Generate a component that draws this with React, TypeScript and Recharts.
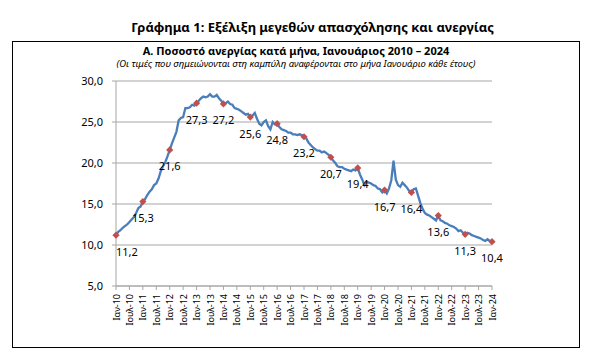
import React from 'react'
import { LineChart, Line, XAxis, YAxis, CartesianGrid } from 'recharts'

// monthly unemployment rate (%), Jan of each year first
const v2010 = [11.2, 11.6, 11.8, 12.1, 12.3, 12.5, 12.8, 13.1, 13.4, 13.9, 14.5, 14.7]
const v2011 = [15.3, 15.6, 16.1, 16.5, 16.8, 17.3, 17.5, 18.1, 19.0, 19.6, 20.1, 20.8]
const v2012 = [21.6, 22.4, 23.1, 23.8, 25.2, 25.5, 25.6, 26.7, 26.7, 26.8, 27.1, 27.0]
const v2013 = [27.3, 27.6, 27.9, 28.1, 28.0, 28.1, 28.4, 28.1, 28.1, 28.3, 27.9, 27.6]
const v2014 = [27.2, 27.3, 27.5, 27.2, 27.1, 26.7, 26.6, 26.5, 26.3, 26.1, 25.9, 26.0]
const v2015 = [25.6, 25.8, 26.1, 25.4, 24.8, 24.6, 25.0, 25.2, 24.5, 24.1, 25.0, 24.7]
const v2016 = [24.8, 24.4, 24.1, 24.0, 23.9, 23.7, 23.7, 23.5, 23.5, 23.4, 23.5, 23.4]
const v2017 = [23.2, 23.0, 22.5, 22.2, 21.9, 21.7, 21.5, 21.5, 21.3, 21.4, 21.2, 21.0]
const v2018 = [20.7, 20.3, 20.0, 19.6, 19.5, 19.5, 19.3, 19.2, 19.1, 19.0, 19.2, 19.1]
const v2019 = [19.4, 18.6, 18.0, 17.3, 17.7, 17.6, 17.5, 17.3, 17.2, 16.9, 16.8, 16.4]
const v2020 = [16.7, 16.3, 16.9, 17.9, 20.3, 18.0, 17.3, 17.1, 17.6, 17.3, 17.0, 16.6]
const v2021 = [16.4, 16.8, 16.9, 16.0, 15.1, 14.4, 13.9, 13.7, 13.6, 13.4, 13.2, 13.0]
const v2022 = [13.6, 13.0, 12.9, 12.7, 12.6, 12.4, 12.3, 12.2, 12.0, 11.7, 11.8, 11.5]
const v2023 = [11.3, 11.5, 11.4, 11.2, 11.1, 11.0, 10.9, 10.8, 10.6, 10.5, 10.7, 10.5]
const v2024 = [10.4]

const years = ['10','11','12','13','14','15','16','17','18','19','20','21','22','23','24']
const monthNames = ['Ιαν','Φεβ','Μαρ','Απρ','Μαϊ','Ιουν','Ιουλ','Αυγ','Σεπ','Οκτ','Νοε','Δεκ']
const yTicks = [5, 10, 15, 20, 25, 30]

const series = [v2010, v2011, v2012, v2013, v2014, v2015, v2016, v2017,
  v2018, v2019, v2020, v2021, v2022, v2023, v2024]

const data = series.flatMap((vals, yi) =>
  vals.map((v, m) => ({ label: `${monthNames[m]}-${years[yi]}`, value: v, jan: m === 0 })))

const FONT = '"Noto Sans", "Open Sans", sans-serif'
const comma = (v: number) => v.toFixed(1).replace('.', ',')

const XTick = (props: any) => {
  const { x, y, payload } = props
  return (
    <text transform={`translate(${x},${y + 4}) rotate(-90)`} textAnchor="end"
          dominantBaseline="central" fontSize={9} fontFamily={FONT} fill="#000">
      {payload.value}
    </text>
  )
}

const JanDot = (props: any) => {
  const { cx, cy, index, payload } = props
  if (!payload?.jan) return <g key={`d${index}`} />
  const r = 3.6
  return (
    <path key={`d${index}`} fill="#C0504D"
          d={`M${cx},${cy - r}L${cx + r},${cy}L${cx},${cy + r}L${cx - r},${cy}Z`} />
  )
}

const JanLabel = (props: any) => {
  const { x, y, index, value } = props
  if (!data[index]?.jan) return <g key={`l${index}`} />
  return (
    <text key={`l${index}`} x={index === 0 ? x : x} y={y + 16}
          textAnchor={index === 0 ? 'start' : 'middle'} dominantBaseline="central"
          fontSize={11} fontFamily={FONT} fill="#000">
      {comma(value)}
    </text>
  )
}

export default function App() {
  return (
    <div style={{ position: 'absolute', left: 0, top: 0, width: 589, height: 354,
                  background: '#fff', overflow: 'hidden', fontFamily: FONT }}>
      <div style={{ position: 'absolute', left: 0, width: 625, top: 18, textAlign: 'center',
                    fontWeight: 700, fontSize: 13, color: '#000' }}>
        Γράφημα 1: Εξέλιξη μεγεθών απασχόλησης και ανεργίας
      </div>
      <div style={{ position: 'absolute', left: 12, top: 41, width: 566, height: 305,
                    border: '1.5px solid #000' }} />
      <div style={{ position: 'absolute', left: 12, width: 568, top: 43, textAlign: 'center',
                    fontWeight: 700, fontSize: 11, color: '#000' }}>
        Α. Ποσοστό ανεργίας κατά μήνα, Ιανουάριος 2010 – 2024
      </div>
      <div style={{ position: 'absolute', left: 12, width: 568, top: 57, textAlign: 'center',
                    fontStyle: 'italic', fontSize: 9.5, color: '#000' }}>
        (Οι τιμές που σημειώνονται στη καμπύλη αναφέρονται στο μήνα Ιανουάριο κάθε έτους)
      </div>
      <div style={{ position: 'absolute', left: 0, top: 0 }}>
        <LineChart width={589} height={354} data={data}
                   margin={{ top: 81, right: 97, bottom: 28, left: 56 }}>
          <CartesianGrid vertical={false} stroke="#a6a6a6" strokeWidth={1} />
          <XAxis dataKey="label" interval={5} tick={<XTick />} tickSize={4} tickMargin={0}
                 height={40} stroke="#a6a6a6" tickLine={{ stroke: '#a6a6a6' }} />
          <YAxis domain={[5, 30]} ticks={yTicks} width={60} tickSize={4} tickMargin={9}
                 tickFormatter={comma} stroke="#a6a6a6"
                 tick={{ fontSize: 11, fontFamily: FONT, fill: '#000' }} />
          <Line type="linear" dataKey="value" stroke="#4A7EBB" strokeWidth={2.3}
                dot={<JanDot />} activeDot={false} label={<JanLabel />}
                isAnimationActive={false} />
        </LineChart>
      </div>
    </div>
  )
}
